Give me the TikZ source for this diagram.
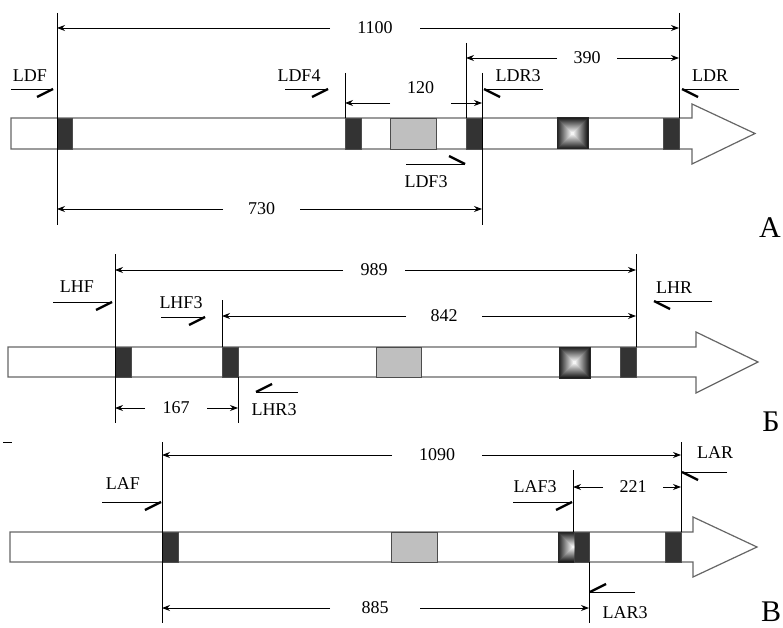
\documentclass[tikz,border=0pt]{standalone}
\usepackage{fontspec}
\setmainfont{Liberation Serif}
\usetikzlibrary{arrows.meta}

\begin{document}
\begin{tikzpicture}[
  x=1pt, y=-1pt,
  lbl/.style={font=\fontsize{18}{20}\selectfont, inner sep=0pt},
  panel/.style={font=\fontsize{30}{32}\selectfont, inner sep=0pt},
  guide/.style={line width=0.9pt},
  dimarr/.style={-{Stealth[length=8pt,width=6pt]}, line width=0.9pt},
  genebar/.style={draw=black!60, line width=1.2pt, fill=white},
  exon/.style={draw=black!70, fill=black!80, line width=0.8pt},
  greybox/.style={draw=black!70, fill=black!25, line width=0.8pt},
  primer/.style={line width=0.9pt},
  primertip/.style={line width=2.4pt},
]
\useasboundingbox (0,0) rectangle (783,628);

% Стрелки-гены: левый край / верх / низ / конец тела / верх и низ головки / острие
\foreach \lx/\ta/\tb/\ex/\ha/\hb/\tx in {11/118/149/692/104/164/755,
                                         8/347/377/696/332/393/758,
                                         10/532/562/693/517/577/757}{
  \draw[genebar] (\lx,\ta) -- (\ex,\ta) -- (\ex,\ha) -- (\tx,{(\ta+\tb)/2})
    -- (\ex,\hb) -- (\ex,\tb) -- (\lx,\tb) -- cycle;
}

% Экзоны
\foreach \xa/\xb/\ya/\yb in {57/72/118/149, 345/361/118/149, 466/482/118/149, 663/679/118/149,
                             115/131/347/377, 222/238/347/377, 620/636/347/377,
                             162/178/532/562, 574/589/532/562, 665/681/532/562}{
  \filldraw[exon] (\xa,\ya) rectangle (\xb,\yb);
}
% Серые блоки
\foreach \xa/\xb/\ya/\yb in {390/436/118/149, 376/421/347/377, 391/437/532/562}{
  \filldraw[greybox] (\xa,\ya) rectangle (\xb,\yb);
}
% Блоки с градиентом
\foreach \xa/\ya in {557/118, 559/347}{
  \foreach \i [evaluate=\i as \c using int(88-6*\i)] in {0,...,14}{
    \fill[black!\c] ({\xa+\i},{\ya+\i}) rectangle ({\xa+31-\i},{\ya+31-\i});
  }
  \draw[black!85, line width=1pt] (\xa,\ya) rectangle ({\xa+31},{\ya+31});
}
\begin{scope}
  \clip (558,532) rectangle (574,562);
  \foreach \i [evaluate=\i as \c using int(88-6*\i)] in {0,...,14}{
    \fill[black!\c] ({558+\i},{532+\i}) rectangle ({590-\i},{562-\i});
  }
  \draw[black!85, line width=1pt] (558,532) rectangle (590,562);
\end{scope}

% Вертикальные границы
\foreach \x/\ya/\yb in {57/13/225, 345/73/118, 466/43/118, 482/73/225, 679/13/118,
                        115/254/423, 222/300/347, 238/377/423, 636/254/347,
                        162/442/623, 573/470/532, 589/562/623, 681/442/532}{
  \draw[guide] (\x,\ya) -- (\x,\yb);
}

% Размеры: левый конец / разрыв / правый конец / y / подпись / y подписи
\foreach \a/\b/\c/\d/\y/\t/\ly in {57/330/420/679/28/1100/28, 466/557/617/679/58/390/58,
                                    345/390/451/482/103/120/88, 57/223/300/482/209/730/209,
                                    115/343/405/636/270/989/270, 222/406/482/636/316/842/316,
                                    115/145/207/238/408/167/408,
                                    162/392/482/681/455/1090/455, 573/603/663/681/487/221/487,
                                    162/330/420/589/608/885/608}{
  \draw[dimarr] (\b,\y) -- (\a,\y);
  \draw[dimarr] (\c,\y) -- (\d,\y);
  \node[lbl] (d\t) at ({(\b+\c)/2},\ly) {\t};
}

% Праймеры: хвост / острие / y / наклон / подпись
\foreach \n/\tl/\tp/\y/\dx/\dy/\lx/\ly in {LDF/11/53/89/-16/8/30/76, LDF4/285/328/89/-16/8/299/76,
                                           LDR3/543/484/89/16/8/518/76, LDR/739/682/89/16/8/710/76,
                                           LDF3/406/465/164/-16/-8/426/182,
                                           LHF/53/112/302/-16/8/77/287, LHF3/161/205/317/-16/8/181/303,
                                           LHR/712/654/301/16/8/674/288, LHR3/298/256/392/16/-8/274/410,
                                           LAF/102/161/502/-16/8/123/484, LAF3/513/572/502/-16/8/535/487,
                                           LAR/727/682/472/16/8/715/453, LAR3/635/590/592/16/-8/625/613}{
  \draw[primer] (\tl,\y) -- (\tp,\y);
  \draw[primertip] (\tp,\y) -- ({\tp+\dx},{\y+\dy});
  \node[lbl] (\n) at (\lx,\ly) {\n};
}

% Обозначения панелей
\node[panel] (pA) at (770,228) {А};
\node[panel] (pB) at (771,422) {Б};
\node[panel] (pV) at (771,612) {В};
\draw[line width=1pt] (3,442) -- (12,442);
\end{tikzpicture}
\end{document}
